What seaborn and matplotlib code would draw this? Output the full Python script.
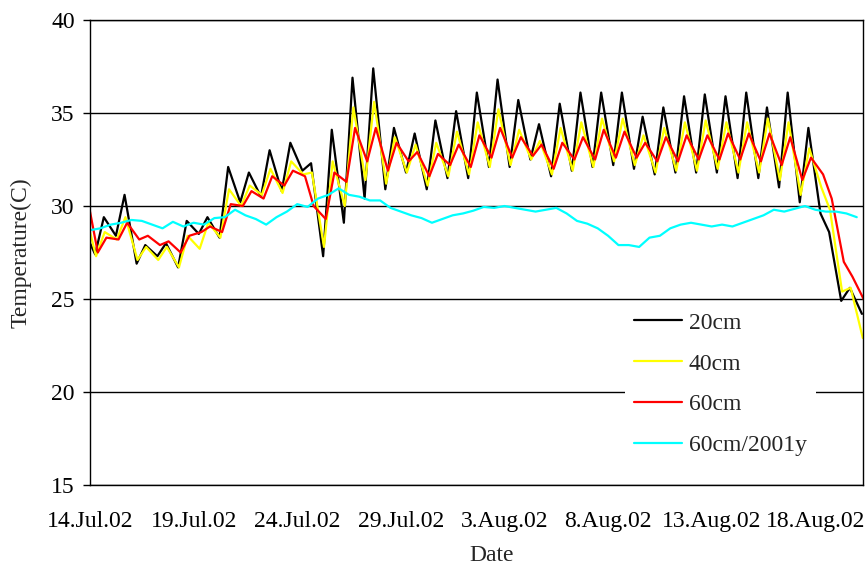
import numpy as np
import pandas as pd
import matplotlib
matplotlib.use("Agg")
import matplotlib.pyplot as plt
import seaborn as sns

# ---- data --------------------------------------------------------------
start = pd.Timestamp("2002-07-14")

series_names = ["20cm", "40cm", "60cm", "60cm/2001y"]
series_colors = ["#000000", "#FFFF00", "#FF0000", "#00FFFF"]

# first reading (00:00, 14 Jul) for 20 / 40 / 60 cm
start_values = [28.0, 28.6, 29.7]
# hour of the daily low / high for 20 / 40 / 60 cm
min_hour = [6, 7, 9]
max_hour = [16, 17, 19]

t20_min = [27.4, 28.4, 26.9, 27.3, 26.7, 28.5, 28.3, 30.2, 30.5, 30.8,
           31.9, 27.3, 29.1, 30.4, 30.9, 31.8, 30.9, 31.5, 31.5, 32.1,
           32.1, 32.5, 31.6, 31.9, 32.1, 32.2, 32.0, 31.7, 31.8, 31.8,
           31.8, 31.5, 31.5, 31.0, 30.2, 29.6, 24.9, 24.2]
t20_max = [29.4, 30.6, 27.9, 28.0, 29.2, 29.4, 32.1, 31.8, 33.0, 33.4,
           32.3, 34.1, 36.9, 37.4, 34.2, 33.9, 34.6, 35.1, 36.1, 36.8,
           35.7, 34.4, 35.5, 36.1, 36.1, 36.1, 34.8, 35.3, 35.9, 36.0,
           35.9, 36.1, 35.3, 36.1, 34.2, 28.6, 25.6]

t40_min = [27.3, 28.2, 27.1, 27.1, 26.7, 27.7, 28.3, 30.0, 30.6, 30.7,
           31.7, 27.8, 30.0, 31.4, 31.2, 31.8, 31.1, 31.6, 31.7, 32.1,
           32.2, 32.5, 31.7, 31.9, 32.1, 32.4, 32.2, 31.8, 31.9, 31.9,
           32.0, 31.8, 31.8, 31.4, 30.6, 31.0, 25.4, 22.9]
t40_max = [28.6, 29.4, 27.8, 27.8, 28.4, 29.1, 30.9, 31.1, 32.0, 32.4,
           31.8, 32.4, 35.3, 35.6, 33.7, 33.3, 33.4, 34.0, 34.5, 35.2,
           34.1, 33.5, 34.2, 34.5, 34.7, 34.7, 33.8, 34.2, 34.5, 34.6,
           34.5, 34.5, 34.7, 34.5, 33.1, 29.8, 25.6]

t60_min = [27.5, 28.2, 28.2, 27.9, 27.5, 28.6, 28.6, 30.0, 30.4, 31.1,
           31.6, 29.3, 31.3, 32.4, 31.9, 32.4, 31.6, 32.2, 32.1, 32.6,
           32.6, 32.7, 32.0, 32.5, 32.5, 32.6, 32.6, 32.4, 32.4, 32.5,
           32.5, 32.5, 32.4, 32.2, 31.4, 31.7, 27.0, 24.9]
t60_max = [28.3, 29.1, 28.4, 28.1, 28.4, 28.9, 30.1, 30.8, 31.6, 31.9,
           30.0, 31.8, 34.2, 34.2, 33.4, 32.9, 32.8, 33.3, 33.8, 34.2,
           33.7, 33.3, 33.4, 33.7, 34.1, 34.0, 33.4, 33.7, 33.8, 33.8,
           33.9, 33.9, 33.9, 33.7, 32.6, 30.4, 26.2]

# 60cm in 2001, read every 12 hours
t60_2001 = [28.7, 28.8, 29.0, 29.1, 29.25, 29.2, 29.0, 28.8, 29.15, 28.9,
            29.1, 29.0, 29.35, 29.4, 29.8, 29.5, 29.3, 29.0, 29.4, 29.7,
            30.1, 29.95, 30.4, 30.6, 30.95, 30.6, 30.5, 30.3, 30.3, 29.9,
            29.7, 29.5, 29.35, 29.1, 29.3, 29.5, 29.6, 29.75, 29.95, 29.9,
            30.0, 29.9, 29.8, 29.7, 29.8, 29.9, 29.6, 29.2, 29.05, 28.8,
            28.4, 27.9, 27.9, 27.8, 28.3, 28.4, 28.8, 29.0, 29.1, 29.0,
            28.9, 29.0, 28.9, 29.1, 29.3, 29.5, 29.8, 29.7, 29.85, 30.0,
            29.8, 29.7, 29.7, 29.6, 29.4]

tick_labels = ["14.Jul.02", "19.Jul.02", "24.Jul.02", "29.Jul.02",
               "3.Aug.02", "8.Aug.02", "13.Aug.02", "18.Aug.02"]


def daily_series(first, mins, maxs, hmin, hmax):
    hours = [0.0]
    temps = [first]
    for d, lo in enumerate(mins):
        hours.append(d * 24 + hmin)
        temps.append(lo)
        if d < len(maxs):
            hours.append(d * 24 + hmax)
            temps.append(maxs[d])
    return start + pd.to_timedelta(hours, unit="h"), temps


frames = []
for i, (mins, maxs) in enumerate([(t20_min, t20_max), (t40_min, t40_max), (t60_min, t60_max)]):
    times, temps = daily_series(start_values[i], mins, maxs, min_hour[i], max_hour[i])
    frames.append(pd.DataFrame({"Date": times, "Temp": temps, "series": series_names[i]}))
times_2001 = start + pd.to_timedelta(np.arange(len(t60_2001)) * 12, unit="h")
frames.append(pd.DataFrame({"Date": times_2001, "Temp": t60_2001, "series": series_names[3]}))
df = pd.concat(frames, ignore_index=True)

# ---- plot ---------------------------------------------------------------
sns.set_style("white")
plt.rcParams["font.family"] = ["Liberation Serif", "DejaVu Serif"]

fig = plt.figure(figsize=(8.68, 5.67), dpi=100)
ax = fig.add_axes([0.1037, 0.1446, 0.8905, 0.8201])

for name, color in zip(series_names, series_colors):
    sns.lineplot(data=df[df["series"] == name], x="Date", y="Temp", color=color,
                 linewidth=1.6, label=name, ax=ax, estimator=None)

ax.set_ylim(15, 40)
ax.set_yticks(range(15, 41, 5))
ax.yaxis.grid(True, color="black", linewidth=1)
ax.xaxis.grid(False)
ax.set_xlim(start, start + pd.Timedelta(days=37.3))
ax.set_xticks(pd.date_range(start, periods=len(tick_labels), freq="5D"))
ax.set_xticklabels(tick_labels)

for side in ["left", "right", "top", "bottom"]:
    ax.spines[side].set_color("black")
    ax.spines[side].set_linewidth(1)

ax.tick_params(axis="x", length=0, pad=19, labelsize=17, colors="black")
ax.tick_params(axis="y", left=True, length=5, width=1, direction="out", pad=6,
               labelsize=17, colors="black")

ax.set_xlabel("Date", fontsize=17)
ax.set_ylabel("Temperature(C)", fontsize=17)
ax.xaxis.set_label_coords(0.52, -0.128)
ax.yaxis.set_label_coords(-0.075, 0.5)

ax.legend(loc="upper left", bbox_to_anchor=(0.692, 0.392), frameon=True,
          fancybox=False, edgecolor="none", facecolor="white", framealpha=1,
          fontsize=17, handlelength=2.0, handletextpad=0.3, labelspacing=0.82,
          borderpad=0.4, borderaxespad=0)

fig.savefig("out.png", dpi=100)
